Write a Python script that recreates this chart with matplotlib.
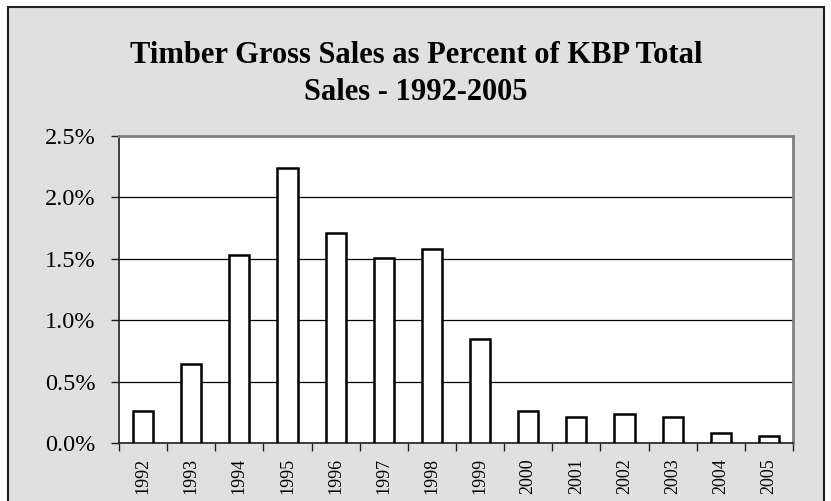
import matplotlib
matplotlib.use('Agg')
import matplotlib.pyplot as plt
from matplotlib.patches import Rectangle
from matplotlib.ticker import FuncFormatter, MultipleLocator, FixedLocator

years = ['1992', '1993', '1994', '1995', '1996', '1997', '1998',
         '1999', '2000', '2001', '2002', '2003', '2004', '2005']
# timber share of KBP total sales, percent
share_pct = [0.26, 0.64, 1.53, 2.24, 1.71, 1.51, 1.58,
             0.85, 0.26, 0.21, 0.24, 0.21, 0.085, 0.058]

plt.rcParams['font.family'] = ['Liberation Serif', 'DejaVu Serif']

fig = plt.figure(figsize=(8.31, 5.01), dpi=100)

# grey chart area with black frame (bottom edge runs off the picture)
W, H = 831, 501
frame = Rectangle((8 / W, -0.05), (824 - 8) / W, 1 - 7 / H + 0.05,
                  transform=fig.transFigure, facecolor='#e0e0e0',
                  edgecolor='#202020', linewidth=1.5, zorder=-1)
fig.patches.append(frame)

ax = fig.add_axes([119 / W, 1 - 443 / H, (793 - 119) / W, (443 - 136) / H])
ax.set_zorder(2)
ax.set_facecolor('white')

x = range(len(years))
ax.bar(x, share_pct, width=0.42, color='white', edgecolor='black',
       linewidth=1.8, zorder=3)

ax.set_xlim(-0.5, len(years) - 0.5)
ax.set_ylim(0, 2.5)
ax.yaxis.set_major_locator(MultipleLocator(0.5))
ax.yaxis.set_major_formatter(FuncFormatter(lambda v, p: '%.1f%%' % v))
ax.grid(axis='y', color='black', linewidth=0.9, zorder=1)

ax.set_xticks(list(x))
ax.set_xticklabels(years, rotation=90, fontsize=13)
ax.xaxis.set_minor_locator(FixedLocator([i - 0.5 for i in range(len(years) + 1)]))
ax.tick_params(axis='x', which='major', length=0, pad=11)
ax.tick_params(axis='x', which='minor', length=6, width=1, color='#202020')
ax.tick_params(axis='y', labelsize=17.5, length=6, width=1, color='#202020', pad=11)

for side in ['left', 'bottom']:
    ax.spines[side].set_color('#202020')
    ax.spines[side].set_linewidth(1.2)
for side in ['top', 'right']:
    ax.spines[side].set_color('#808080')
    ax.spines[side].set_linewidth(2)

fig.text(416 / W, 1 - 74 / H,
         'Timber Gross Sales as Percent of KBP Total\nSales - 1992-2005',
         ha='center', va='center', fontsize=22, fontweight='bold',
         linespacing=1.38)

fig.savefig('out.png', dpi=100)
